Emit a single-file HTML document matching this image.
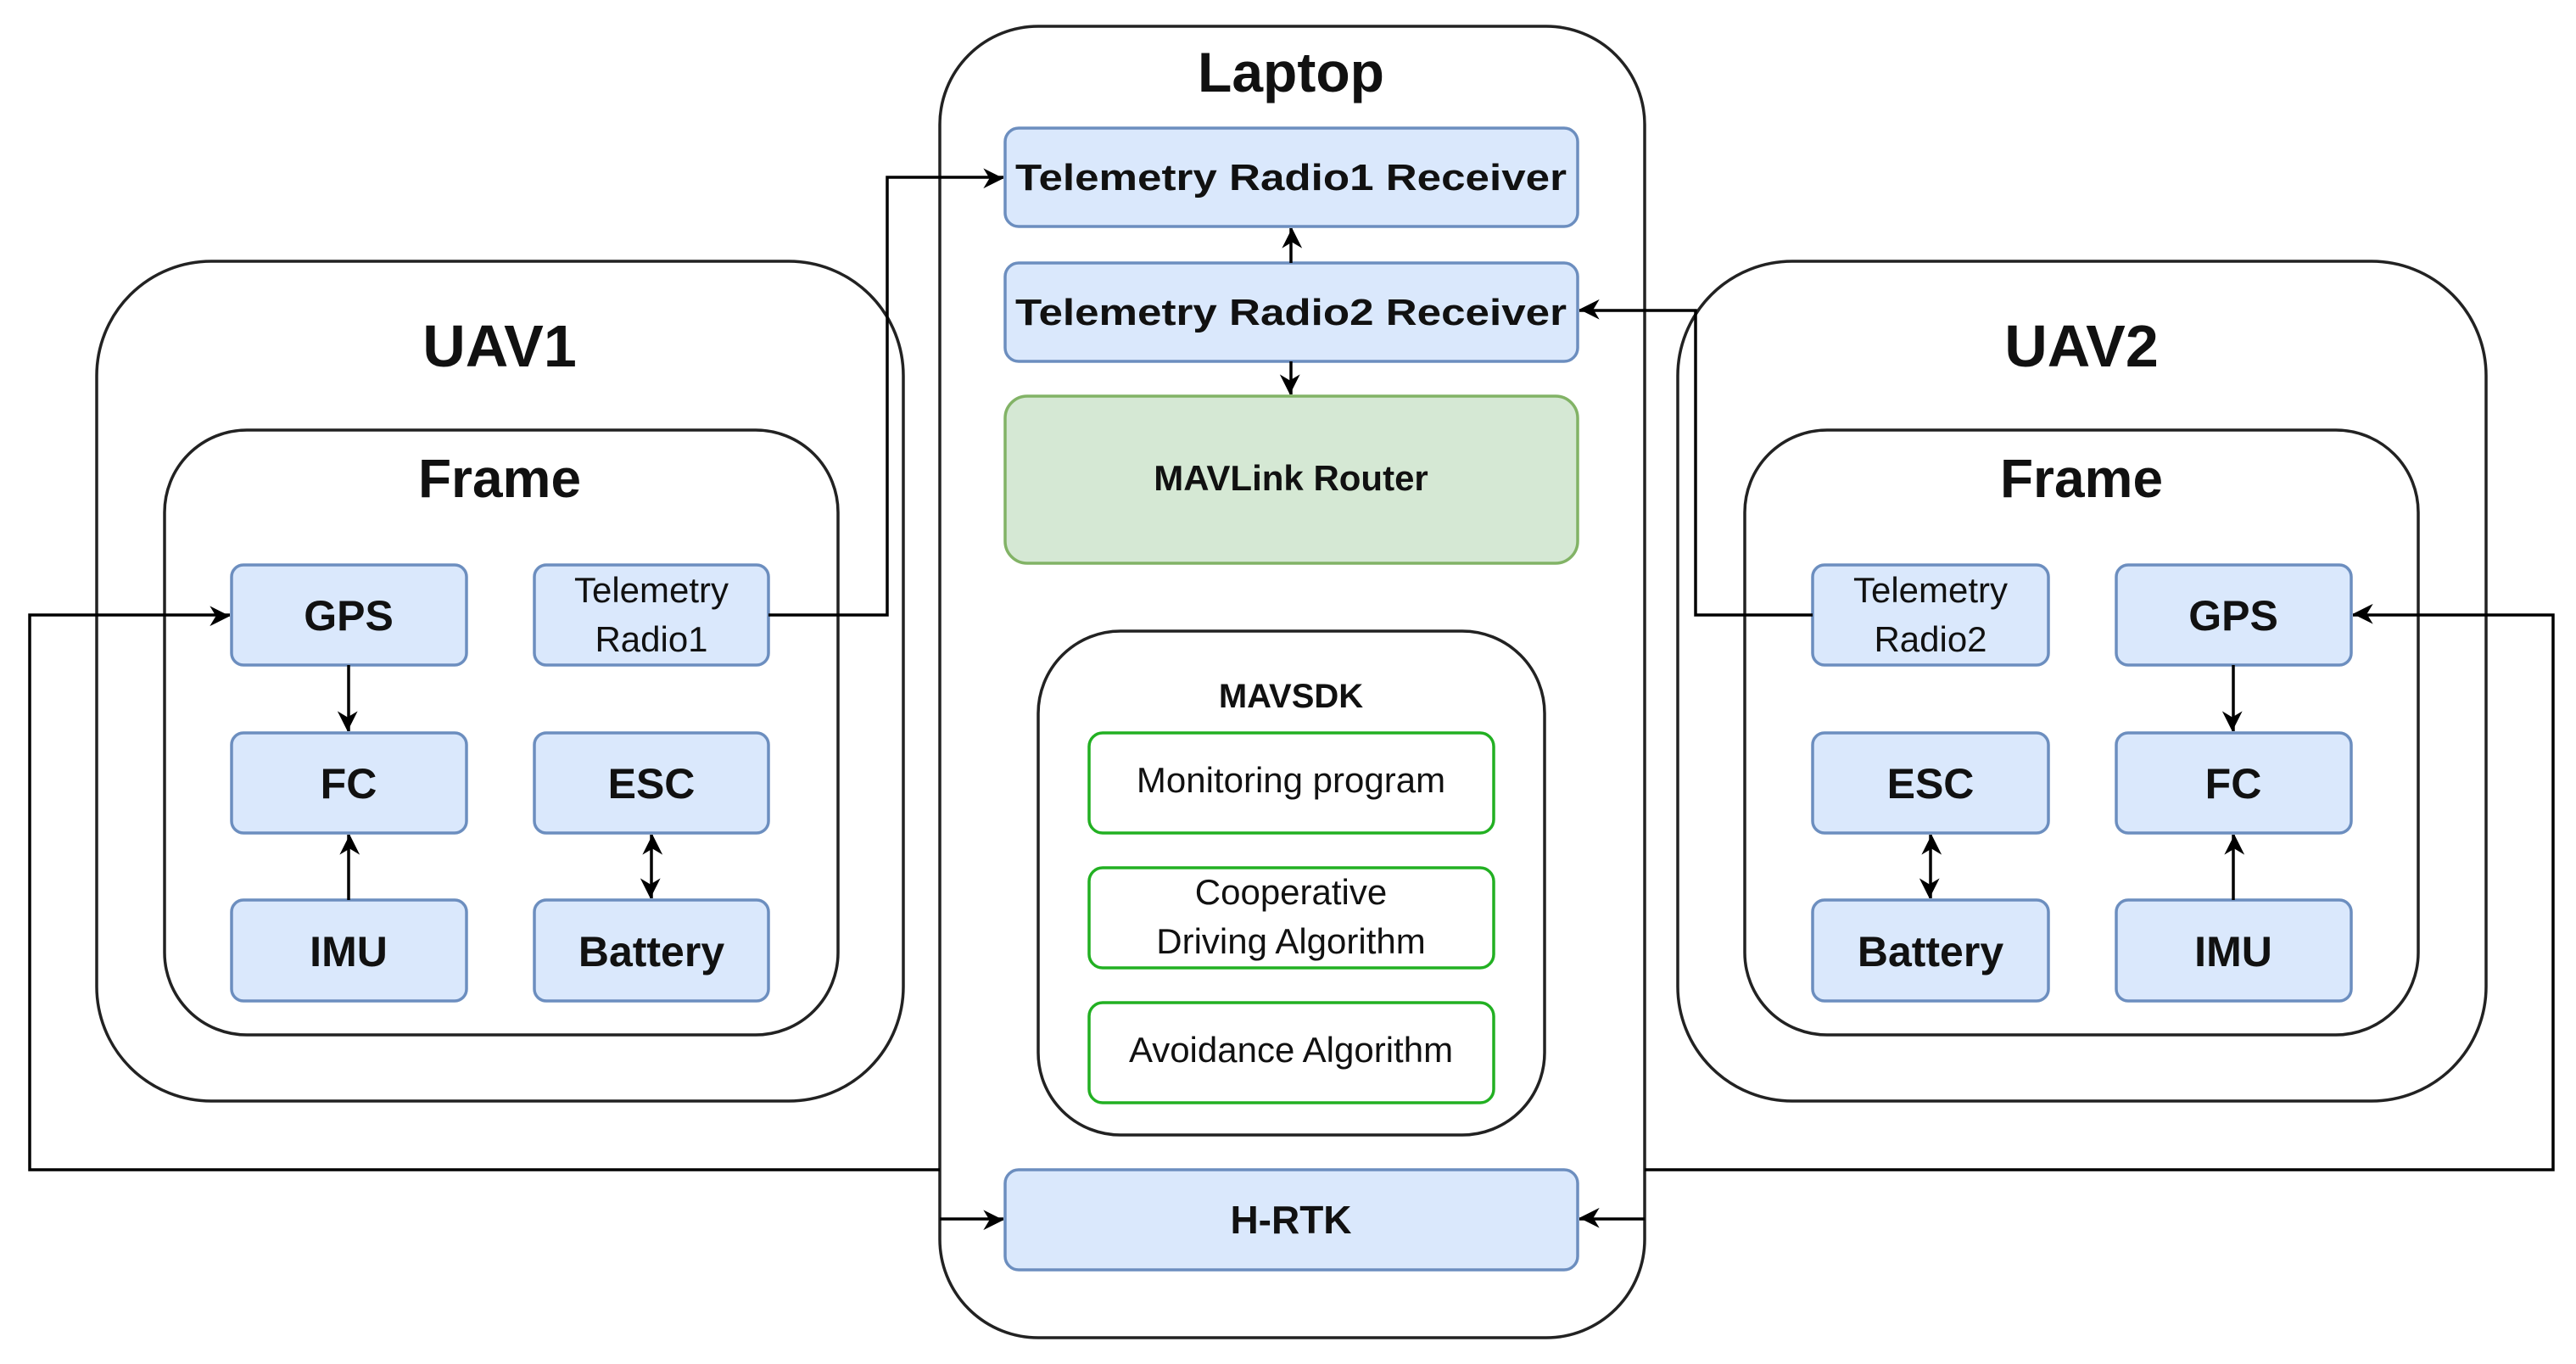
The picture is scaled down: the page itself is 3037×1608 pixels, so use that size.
<!DOCTYPE html>
<html><head><meta charset="utf-8"><style>
html,body{margin:0;padding:0;background:#fff;}
svg{display:block;}
text{font-family:"Liberation Sans",sans-serif;fill:#111;}
.b{fill:#dae8fc;stroke:#6c8ebf;stroke-width:3.5;}
.c{fill:#fff;stroke:#222;stroke-width:3.5;}
.g{fill:#fff;stroke:#22b022;stroke-width:3.5;}
.l{fill:none;stroke:#000;stroke-width:3.5;}
</style></head><body>
<svg width="3037" height="1608" viewBox="0 0 3037 1608" xmlns="http://www.w3.org/2000/svg">
<defs>
<marker id="a" viewBox="0 0 10 10" refX="10" refY="5" markerWidth="7" markerHeight="7" markerUnits="userSpaceOnUse" orient="auto" style="overflow:visible">
<path d="M0,0 L10,5 L0,10 L3,5 z" fill="#000" transform="scale(3.4) translate(-7,-3)"/>
</marker>
</defs>
<rect width="3037" height="1608" fill="#fff"/>

<!-- UAV1 -->
<rect class="c" x="114" y="308" width="951" height="990" rx="135"/>
<text x="589" y="432" font-size="70" font-weight="bold" text-anchor="middle">UAV1</text>
<rect class="c" x="194" y="507" width="794" height="713" rx="97"/>
<text x="589" y="586" font-size="64" font-weight="bold" text-anchor="middle">Frame</text>
<rect class="b" x="273" y="666" width="277" height="118" rx="14"/>
<text x="411" y="743" font-size="50" font-weight="bold" text-anchor="middle">GPS</text>
<rect class="b" x="630" y="666" width="276" height="118" rx="14"/>
<text x="768" y="710" font-size="42" text-anchor="middle">Telemetry</text>
<text x="768" y="768" font-size="42" text-anchor="middle">Radio1</text>
<rect class="b" x="273" y="864" width="277" height="118" rx="14"/>
<text x="411" y="941" font-size="50" font-weight="bold" text-anchor="middle">FC</text>
<rect class="b" x="630" y="864" width="276" height="118" rx="14"/>
<text x="768" y="941" font-size="50" font-weight="bold" text-anchor="middle">ESC</text>
<rect class="b" x="273" y="1061" width="277" height="119" rx="14"/>
<text x="411" y="1139" font-size="50" font-weight="bold" text-anchor="middle">IMU</text>
<rect class="b" x="630" y="1061" width="276" height="119" rx="14"/>
<text x="768" y="1139" font-size="50" font-weight="bold" text-anchor="middle">Battery</text>

<!-- UAV2 -->
<rect class="c" x="1978" y="308" width="953" height="990" rx="135"/>
<text x="2454" y="432" font-size="70" font-weight="bold" text-anchor="middle">UAV2</text>
<rect class="c" x="2057" y="507" width="794" height="713" rx="97"/>
<text x="2454" y="586" font-size="64" font-weight="bold" text-anchor="middle">Frame</text>
<rect class="b" x="2137" y="666" width="278" height="118" rx="14"/>
<text x="2276" y="710" font-size="42" text-anchor="middle">Telemetry</text>
<text x="2276" y="768" font-size="42" text-anchor="middle">Radio2</text>
<rect class="b" x="2495" y="666" width="277" height="118" rx="14"/>
<text x="2633" y="743" font-size="50" font-weight="bold" text-anchor="middle">GPS</text>
<rect class="b" x="2137" y="864" width="278" height="118" rx="14"/>
<text x="2276" y="941" font-size="50" font-weight="bold" text-anchor="middle">ESC</text>
<rect class="b" x="2495" y="864" width="277" height="118" rx="14"/>
<text x="2633" y="941" font-size="50" font-weight="bold" text-anchor="middle">FC</text>
<rect class="b" x="2137" y="1061" width="278" height="119" rx="14"/>
<text x="2276" y="1139" font-size="50" font-weight="bold" text-anchor="middle">Battery</text>
<rect class="b" x="2495" y="1061" width="277" height="119" rx="14"/>
<text x="2633" y="1139" font-size="50" font-weight="bold" text-anchor="middle">IMU</text>

<!-- Laptop -->
<rect class="c" x="1108" y="31" width="831" height="1546" rx="116"/>
<text x="1522" y="108" font-size="66" font-weight="bold" text-anchor="middle">Laptop</text>
<rect class="b" x="1185" y="151" width="675" height="116" rx="16"/>
<text x="1522" y="224" font-size="44" font-weight="bold" text-anchor="middle" textLength="650" lengthAdjust="spacingAndGlyphs">Telemetry Radio1 Receiver</text>
<rect class="b" x="1185" y="310" width="675" height="116" rx="16"/>
<text x="1522" y="383" font-size="44" font-weight="bold" text-anchor="middle" textLength="650" lengthAdjust="spacingAndGlyphs">Telemetry Radio2 Receiver</text>
<rect x="1185" y="467" width="675" height="197" rx="26" fill="#d5e8d4" stroke="#82b366" stroke-width="3.5"/>
<text x="1522" y="578" font-size="42" font-weight="bold" text-anchor="middle">MAVLink Router</text>
<rect class="c" x="1224" y="744" width="597" height="594" rx="97"/>
<text x="1522" y="834" font-size="40" font-weight="bold" text-anchor="middle">MAVSDK</text>
<rect class="g" x="1284" y="864" width="477" height="118" rx="16"/>
<text x="1522" y="934" font-size="42" text-anchor="middle">Monitoring program</text>
<rect class="g" x="1284" y="1023" width="477" height="118" rx="16"/>
<text x="1522" y="1066" font-size="42" text-anchor="middle">Cooperative</text>
<text x="1522" y="1124" font-size="42" text-anchor="middle">Driving Algorithm</text>
<rect class="g" x="1284" y="1182" width="477" height="118" rx="16"/>
<text x="1522" y="1252" font-size="42" text-anchor="middle">Avoidance Algorithm</text>
<rect class="b" x="1185" y="1379" width="675" height="118" rx="16"/>
<text x="1522" y="1454" font-size="46" font-weight="bold" text-anchor="middle">H-RTK</text>

<!-- connectors -->
<polyline class="l" points="906,725 1046,725 1046,209 1183,209" marker-end="url(#a)"/>
<polyline class="l" points="2137,725 1999,725 1999,366 1862,366" marker-end="url(#a)"/>
<polyline class="l" points="1108,1379 35,1379 35,725 271,725" marker-end="url(#a)"/>
<polyline class="l" points="1939,1379 3010,1379 3010,725 2774,725" marker-end="url(#a)"/>
<line class="l" x1="1108" y1="1437" x2="1183" y2="1437" marker-end="url(#a)"/>
<line class="l" x1="1939" y1="1437" x2="1862" y2="1437" marker-end="url(#a)"/>
<line class="l" x1="1522" y1="310" x2="1522" y2="269" marker-end="url(#a)"/>
<line class="l" x1="1522" y1="426" x2="1522" y2="465" marker-end="url(#a)"/>
<line class="l" x1="411" y1="784" x2="411" y2="862" marker-end="url(#a)"/>
<line class="l" x1="411" y1="1061" x2="411" y2="984" marker-end="url(#a)"/>
<line class="l" x1="768" y1="1020" x2="768" y2="984" marker-end="url(#a)"/>
<line class="l" x1="768" y1="1020" x2="768" y2="1059" marker-end="url(#a)"/>
<line class="l" x1="2633" y1="784" x2="2633" y2="862" marker-end="url(#a)"/>
<line class="l" x1="2633" y1="1061" x2="2633" y2="984" marker-end="url(#a)"/>
<line class="l" x1="2276" y1="1020" x2="2276" y2="984" marker-end="url(#a)"/>
<line class="l" x1="2276" y1="1020" x2="2276" y2="1059" marker-end="url(#a)"/>
</svg>
</body></html>
